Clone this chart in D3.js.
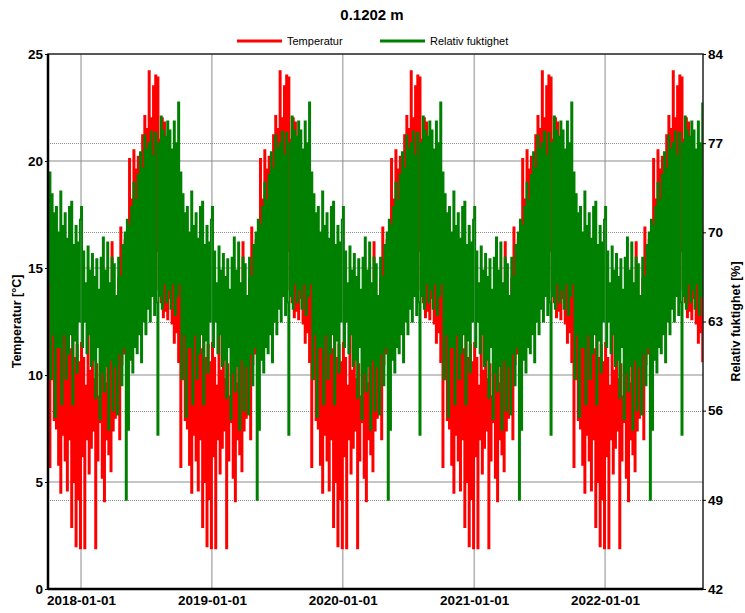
<!DOCTYPE html>
<html>
<head>
<meta charset="utf-8">
<script src="https://cdn.jsdelivr.net/npm/d3@7"></script>
<style>
  html, body { margin: 0; padding: 0; background: #fff; }
  svg { display: block; font-family: "Liberation Sans", Arial, sans-serif; }
</style>
</head>
<body>
<svg id="chart" width="745" height="613"></svg>
<script>
// Reference climate year at 0.1202 m depth, sampled ~every 3 days (10 samples per month, Jan..Dec).
// The same year is repeated for every calendar year shown.
const tempYear = [
  11.5, 6.2, 10.8, 1.9, 9.5, 7.0, 12.3, 5.4, 10.2, 6.6,     // Jan
  11.0, 7.4, 9.8, 1.9, 10.5, 6.0, 9.0, 7.8, 11.2, 5.2,      // Feb
  10.4, 4.1, 9.6, 7.0, 12.2, 6.3, 11.0, 5.5, 16.2, 7.4,     // Mar
  13.4, 8.0, 12.8, 9.2, 14.5, 7.0, 16.9, 10.5, 15.2, 11.0,  // Apr
  16.3, 11.8, 15.5, 12.6, 20.1, 13.0, 18.2, 12.4, 20.5, 13.8, // May
  19.6, 14.2, 20.2, 13.6, 19.0, 15.0, 21.2, 14.4, 22.1, 15.6, // Jun
  21.5, 16.0, 24.2, 15.2, 22.0, 16.5, 23.5, 14.8, 24.0, 15.8, // Jul
  23.9, 14.0, 21.0, 13.4, 22.0, 12.7, 21.8, 13.0, 20.5, 12.6, // Aug
  21.4, 13.6, 19.0, 12.4, 17.7, 11.5, 18.5, 12.0, 16.8, 10.6, // Sep
  16.7, 5.7, 14.6, 9.8, 14.4, 7.9, 13.5, 7.5, 15.0, 5.8,    // Oct
  12.8, 4.5, 13.6, 7.2, 12.0, 6.0, 11.5, 4.6, 12.4, 7.0,    // Nov
  11.2, 2.9, 12.2, 5.0, 10.8, 2.0, 11.4, 4.2, 10.6, 1.9     // Dec
];
const rhYear = [
  72.0, 61.0, 68.5, 63.0, 66.0, 60.5, 68.9, 62.0, 67.0, 59.5, // Jan
  68.3, 60.0, 66.5, 57.0, 67.9, 61.0, 65.5, 55.3, 68.0, 59.0, // Feb
  69.6, 57.5, 67.0, 59.5, 69.2, 54.5, 66.0, 60.0, 68.0, 56.0, // Mar
  67.5, 59.5, 65.0, 55.7, 68.0, 60.5, 66.5, 58.0, 69.0, 61.0, // Apr
  70.0, 49.0, 71.0, 54.5, 70.5, 60.0, 72.0, 59.0, 73.9, 61.0, // May
  72.5, 60.5, 74.5, 62.0, 76.3, 59.8, 75.0, 63.0, 77.6, 62.0, // Jun
  76.5, 64.0, 77.0, 63.0, 77.9, 65.0, 76.0, 63.5, 77.8, 64.5, // Jul
  54.1, 77.0, 65.0, 79.1, 64.0, 78.0, 66.0, 77.5, 64.5, 78.7, // Aug
  65.5, 78.0, 64.0, 76.5, 66.0, 78.7, 63.5, 77.0, 65.0, 80.2, // Sep
  66.0, 74.7, 58.5, 73.0, 62.0, 71.5, 55.5, 72.0, 61.0, 70.0, // Oct
  61.0, 73.2, 56.5, 70.5, 62.0, 71.5, 58.5, 69.5, 60.5, 72.0, // Nov
  62.0, 72.4, 56.5, 69.0, 61.5, 70.5, 59.0, 69.2, 63.0, 71.0  // Dec
];
const years = [2017, 2018, 2019, 2020, 2021, 2022];
const periodStart = new Date(2017, 9, 1);
const periodEnd = new Date(2022, 9, 1);

const tempTicks = [0, 5, 10, 15, 20, 25];
const rhTicks = [42, 49, 56, 63, 70, 77, 84];
const dateTicks = [new Date(2018, 0, 1), new Date(2019, 0, 1), new Date(2020, 0, 1), new Date(2021, 0, 1), new Date(2022, 0, 1)];

const titleText = "0.1202 m";
const legendItems = [
  { name: "Temperatur", color: "#ff0000" },
  { name: "Relativ fuktighet", color: "#008000" }
];

// Expand the reference year over the shown period
const series = [];
years.forEach(y => {
  const start = new Date(y, 0, 1);
  const len = (new Date(y + 1, 0, 1) - start);
  tempYear.forEach((t, i) => {
    const d = new Date(+start + len * i / tempYear.length);
    if (d >= periodStart && d <= periodEnd) series.push({ date: d, temp: t, rh: rhYear[i] });
  });
});

const svg = d3.select("#chart");
const m = { left: 48, right: 703, top: 54, bottom: 589 };

const x = d3.scaleTime().domain([periodStart, periodEnd]).range([m.left, m.right]);
const yT = d3.scaleLinear().domain([0, 25]).range([m.bottom, m.top]);
const yR = d3.scaleLinear().domain([42, 84]).range([m.bottom, m.top]);

// Title
svg.append("text").attr("x", 372).attr("y", 20).attr("text-anchor", "middle")
  .attr("font-size", 15).attr("font-weight", "bold").text(titleText);

// Legend
const legendX = [237, 380];
legendItems.forEach((it, i) => {
  const g = svg.append("g").attr("transform", `translate(${legendX[i]},41)`);
  g.append("line").attr("x1", 0).attr("x2", 45).attr("stroke", it.color).attr("stroke-width", 3);
  g.append("text").attr("x", 50).attr("y", 4).attr("font-size", 11).text(it.name);
});

// Grid: solid on temperature ticks and years, dotted on humidity ticks
const grid = svg.append("g");
grid.selectAll(".gy").data(tempTicks.slice(1, -1)).join("line")
  .attr("x1", m.left).attr("x2", m.right).attr("y1", d => yT(d)).attr("y2", d => yT(d))
  .attr("stroke", "#8c8c8c").attr("stroke-width", 1);
grid.selectAll(".gr").data(rhTicks.slice(1, -1)).join("line")
  .attr("x1", m.left).attr("x2", m.right).attr("y1", d => Math.round(yR(d)) + 0.5).attr("y2", d => Math.round(yR(d)) + 0.5)
  .attr("stroke", "#8c8c8c").attr("stroke-width", 1).attr("stroke-dasharray", "1,1");
grid.selectAll(".gx").data(dateTicks).join("line")
  .attr("x1", d => x(d)).attr("x2", d => x(d)).attr("y1", m.top).attr("y2", m.bottom)
  .attr("stroke", "#8c8c8c").attr("stroke-width", 1);

// Series
const lineT = d3.line().x(d => x(d.date)).y(d => yT(d.temp)).curve(d3.curveStepAfter);
const lineR = d3.line().x(d => x(d.date)).y(d => yR(d.rh)).curve(d3.curveStepAfter);
svg.append("path").datum(series).attr("d", lineT).attr("fill", "none")
  .attr("stroke", "#ff0000").attr("stroke-width", 1.9);
svg.append("path").datum(series).attr("d", lineR).attr("fill", "none")
  .attr("stroke", "#008000").attr("stroke-width", 1.9);

// Frame
svg.append("rect").attr("x", m.left).attr("y", m.top).attr("width", m.right - m.left).attr("height", m.bottom - m.top)
  .attr("fill", "none").attr("stroke", "#222").attr("stroke-width", 1.5);
svg.append("line").attr("x1", m.left).attr("x2", m.left).attr("y1", m.top).attr("y2", m.bottom + 1)
  .attr("stroke", "#000").attr("stroke-width", 2.5);
svg.append("line").attr("x1", m.left).attr("x2", m.right).attr("y1", m.bottom).attr("y2", m.bottom)
  .attr("stroke", "#000").attr("stroke-width", 2.5);

// Axes
const axFont = g => g.selectAll("text").attr("font-size", 13.5).attr("font-weight", "bold")
  .attr("font-family", "'Liberation Sans', Arial, sans-serif").attr("fill", "#000");
svg.append("g").attr("transform", `translate(${m.left},0)`)
  .call(d3.axisLeft(yT).tickValues(tempTicks).tickSize(3).tickPadding(2))
  .call(g => g.select(".domain").remove()).call(axFont);
svg.append("g").attr("transform", `translate(${m.right},0)`)
  .call(d3.axisRight(yR).tickValues(rhTicks).tickSize(3).tickPadding(2))
  .call(g => g.select(".domain").remove()).call(axFont);
svg.append("g").attr("transform", `translate(0,${m.bottom})`)
  .call(d3.axisBottom(x).tickValues(dateTicks).tickFormat(d3.timeFormat("%Y-%m-%d")).tickSize(0).tickPadding(6))
  .call(g => g.select(".domain").remove()).call(axFont);

// Axis titles
svg.append("text").attr("transform", `translate(21,${(m.top + m.bottom) / 2}) rotate(-90)`)
  .attr("text-anchor", "middle").attr("font-size", 12.5).attr("font-weight", "bold").text("Temperatur [°C]");
svg.append("text").attr("transform", `translate(740,${(m.top + m.bottom) / 2}) rotate(-90)`)
  .attr("text-anchor", "middle").attr("font-size", 12.5).attr("font-weight", "bold").text("Relativ fuktighet [%]");
</script>
</body>
</html>
